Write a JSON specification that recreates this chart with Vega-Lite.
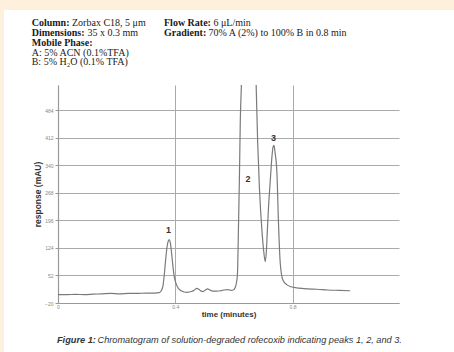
{
  "$schema": "https://vega.github.io/schema/vega-lite/v6.json",
  "width": 341,
  "height": 218,
  "autosize": {"type": "none"},
  "padding": {"left": 58, "top": 85, "right": 55, "bottom": 49},
  "background": "#ffffff",
  "config": {"view": {"stroke": null}},
  "datasets": {
    "trace": [
      {"t": 0.0, "v": 2}, {"t": 0.03, "v": 2}, {"t": 0.06, "v": 2.5}, {"t": 0.09, "v": 2},
      {"t": 0.12, "v": 3}, {"t": 0.15, "v": 4}, {"t": 0.18, "v": 5}, {"t": 0.21, "v": 4},
      {"t": 0.24, "v": 5}, {"t": 0.27, "v": 5}, {"t": 0.3, "v": 6}, {"t": 0.33, "v": 6},
      {"t": 0.345, "v": 7}, {"t": 0.352, "v": 12}, {"t": 0.358, "v": 25}, {"t": 0.362, "v": 50},
      {"t": 0.366, "v": 84}, {"t": 0.372, "v": 127}, {"t": 0.3765, "v": 143}, {"t": 0.3795, "v": 146},
      {"t": 0.383, "v": 138}, {"t": 0.3887, "v": 101}, {"t": 0.3925, "v": 72}, {"t": 0.3965, "v": 49},
      {"t": 0.402, "v": 32}, {"t": 0.411, "v": 18}, {"t": 0.42, "v": 12}, {"t": 0.428, "v": 9.5},
      {"t": 0.44, "v": 8}, {"t": 0.455, "v": 10}, {"t": 0.465, "v": 14}, {"t": 0.473, "v": 18},
      {"t": 0.48, "v": 16}, {"t": 0.488, "v": 11}, {"t": 0.495, "v": 10}, {"t": 0.503, "v": 14},
      {"t": 0.51, "v": 17}, {"t": 0.518, "v": 14}, {"t": 0.528, "v": 11}, {"t": 0.54, "v": 11},
      {"t": 0.555, "v": 12}, {"t": 0.565, "v": 14}, {"t": 0.58, "v": 15}, {"t": 0.59, "v": 13},
      {"t": 0.598, "v": 14}, {"t": 0.604, "v": 20}, {"t": 0.609, "v": 35}, {"t": 0.612, "v": 55},
      {"t": 0.6158, "v": 189}, {"t": 0.619, "v": 320}, {"t": 0.6216, "v": 450}, {"t": 0.625, "v": 540},
      {"t": 0.632, "v": 700}, {"t": 0.645, "v": 850}, {"t": 0.66, "v": 850}, {"t": 0.67, "v": 700},
      {"t": 0.676, "v": 545}, {"t": 0.681, "v": 400}, {"t": 0.687, "v": 280}, {"t": 0.6955, "v": 170},
      {"t": 0.701, "v": 120}, {"t": 0.7068, "v": 88}, {"t": 0.711, "v": 120}, {"t": 0.714, "v": 170},
      {"t": 0.718, "v": 231}, {"t": 0.724, "v": 300}, {"t": 0.7296, "v": 362}, {"t": 0.7335, "v": 388},
      {"t": 0.7365, "v": 392}, {"t": 0.74, "v": 375}, {"t": 0.7467, "v": 319}, {"t": 0.752, "v": 189},
      {"t": 0.758, "v": 84}, {"t": 0.767, "v": 40}, {"t": 0.78, "v": 28}, {"t": 0.792, "v": 23},
      {"t": 0.82, "v": 19}, {"t": 0.85, "v": 17}, {"t": 0.883, "v": 16}, {"t": 0.92, "v": 14},
      {"t": 0.96, "v": 13}, {"t": 0.9966, "v": 12}
    ],
    "peaks": [
      {"t": 0.377, "v": 170, "label": "1"},
      {"t": 0.648, "v": 305, "label": "2"},
      {"t": 0.735, "v": 411, "label": "3"}
    ],
    "one": [{}]
  },
  "layer": [
    {
      "data": {"name": "one"},
      "mark": {"type": "rect", "fill": "#fdf1de", "x": -58, "x2": 396, "y": -85, "y2": -75},
      "encoding": {}
    },
    {
      "data": {"name": "one"},
      "mark": {"type": "rect", "fill": "#fdf1de", "x": -58, "x2": -54, "y": -85, "y2": 267},
      "encoding": {}
    },
    {
      "data": {"name": "trace"},
      "mark": {"type": "line", "color": "#7a7a7a", "strokeWidth": 1.2, "clip": true, "interpolate": "monotone"},
      "encoding": {
        "x": {
          "field": "t", "type": "quantitative",
          "scale": {"domain": [0, 1.163], "nice": false, "zero": false},
          "axis": {
            "values": [0, 0.4, 0.8], "tickCount": 20, "format": "~g",
            "title": "time (minutes)", "titleFontSize": 8, "titleFontWeight": "bold",
            "titleColor": "#333", "titleFont": "Liberation Sans", "titlePadding": 1,
            "labelFontSize": 5, "labelColor": "#888", "labelPadding": 1, "tickSize": 0,
            "domainColor": "#999", "domainWidth": 1.2, "gridColor": "#aaa", "gridWidth": 1,
            "labelFlush": false, "labelOverlap": false
          }
        },
        "y": {
          "field": "v", "type": "quantitative",
          "scale": {"domain": [-20, 550], "nice": false, "zero": false},
          "axis": {
            "values": [-20, 52, 124, 196, 268, 340, 412, 484], "tickCount": 20,
            "title": "response (mAU)", "titleFontSize": 8.5, "titleFontWeight": "bold",
            "titleColor": "#333", "titleFont": "Liberation Sans", "titlePadding": 2,
            "labelFontSize": 5, "labelColor": "#888", "labelPadding": 2, "tickSize": 3,
            "tickColor": "#999", "domainColor": "#999", "domainWidth": 1.2,
            "gridColor": "#aaa", "gridWidth": 1, "labelFlush": false, "labelOverlap": false
          }
        }
      }
    },
    {
      "data": {"name": "peaks"},
      "mark": {"type": "text", "font": "Liberation Sans", "fontSize": 9, "fontWeight": "bold", "color": "#333", "baseline": "middle", "align": "center"},
      "encoding": {
        "x": {"field": "t", "type": "quantitative"},
        "y": {"field": "v", "type": "quantitative"},
        "text": {"field": "label"}
      }
    },
    {"data": {"name": "one"}, "mark": {"type": "text", "text": "Column:", "x": -26.3, "y": -62, "align": "left", "baseline": "middle", "font": "Liberation Serif", "fontSize": 10, "fontWeight": "bold", "color": "#1a1a1a"}, "encoding": {}},
    {"data": {"name": "one"}, "mark": {"type": "text", "text": "Zorbax C18, 5 μm", "x": 14, "y": -62, "align": "left", "baseline": "middle", "font": "Liberation Serif", "fontSize": 10, "color": "#1a1a1a"}, "encoding": {}},
    {"data": {"name": "one"}, "mark": {"type": "text", "text": "Dimensions:", "x": -26.3, "y": -52, "align": "left", "baseline": "middle", "font": "Liberation Serif", "fontSize": 10, "fontWeight": "bold", "color": "#1a1a1a"}, "encoding": {}},
    {"data": {"name": "one"}, "mark": {"type": "text", "text": "35 x 0.3 mm", "x": 29.5, "y": -52, "align": "left", "baseline": "middle", "font": "Liberation Serif", "fontSize": 10, "color": "#1a1a1a"}, "encoding": {}},
    {"data": {"name": "one"}, "mark": {"type": "text", "text": "Mobile Phase:", "x": -26.3, "y": -42, "align": "left", "baseline": "middle", "font": "Liberation Serif", "fontSize": 10, "fontWeight": "bold", "color": "#1a1a1a"}, "encoding": {}},
    {"data": {"name": "one"}, "mark": {"type": "text", "text": "A: 5% ACN (0.1%TFA)", "x": -26.3, "y": -32.5, "align": "left", "baseline": "middle", "font": "Liberation Serif", "fontSize": 10, "color": "#1a1a1a"}, "encoding": {}},
    {"data": {"name": "one"}, "mark": {"type": "text", "text": "B: 5% H₂O (0.1% TFA)", "x": -26.3, "y": -23, "align": "left", "baseline": "middle", "font": "Liberation Serif", "fontSize": 10, "color": "#1a1a1a"}, "encoding": {}},
    {"data": {"name": "one"}, "mark": {"type": "text", "text": "Flow Rate:", "x": 106, "y": -62, "align": "left", "baseline": "middle", "font": "Liberation Serif", "fontSize": 10, "fontWeight": "bold", "color": "#1a1a1a"}, "encoding": {}},
    {"data": {"name": "one"}, "mark": {"type": "text", "text": "6 μL/min", "x": 155.5, "y": -62, "align": "left", "baseline": "middle", "font": "Liberation Serif", "fontSize": 10, "color": "#1a1a1a"}, "encoding": {}},
    {"data": {"name": "one"}, "mark": {"type": "text", "text": "Gradient:", "x": 106, "y": -52, "align": "left", "baseline": "middle", "font": "Liberation Serif", "fontSize": 10, "fontWeight": "bold", "color": "#1a1a1a"}, "encoding": {}},
    {"data": {"name": "one"}, "mark": {"type": "text", "text": "70% A (2%) to 100% B in 0.8 min", "x": 150.5, "y": -52, "align": "left", "baseline": "middle", "font": "Liberation Serif", "fontSize": 10, "color": "#1a1a1a"}, "encoding": {}},
    {"data": {"name": "one"}, "mark": {"type": "text", "text": "Figure 1:", "x": -1, "y": 255, "align": "left", "baseline": "middle", "font": "Liberation Sans", "fontSize": 9.2, "fontWeight": "bold", "fontStyle": "italic", "color": "#333"}, "encoding": {}},
    {"data": {"name": "one"}, "mark": {"type": "text", "text": "Chromatogram of solution-degraded rofecoxib indicating peaks 1, 2, and 3.", "x": 39.5, "y": 255, "align": "left", "baseline": "middle", "font": "Liberation Sans", "fontSize": 9.2, "fontStyle": "italic", "color": "#333"}, "encoding": {}}
  ]
}
